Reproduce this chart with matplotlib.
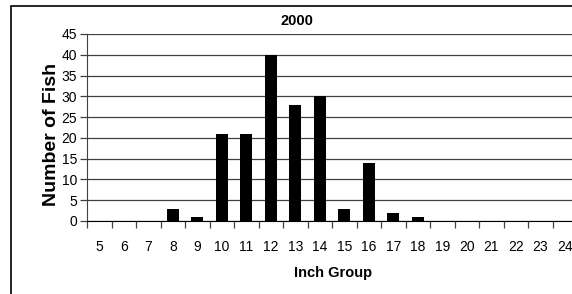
import matplotlib
matplotlib.use("Agg")
import matplotlib.pyplot as plt
from matplotlib.patches import Rectangle

plt.rcParams['font.family'] = ['Liberation Sans', 'DejaVu Sans']

# data
inch_groups = list(range(5, 25))
fish_counts = [0, 0, 0, 3, 1, 21, 21, 40, 28, 30, 3, 14, 2, 1, 0, 0, 0, 0, 0, 0]
y_ticks = list(range(0, 50, 5))
title = '2000'

fig = plt.figure(figsize=(5.72, 2.94), dpi=100)
fig.patch.set_facecolor('white')

# outer chart frame (clipped at right / bottom like the reference)
fig.add_artist(Rectangle((11 / 572, -0.05), 1.2, 1 - 6 / 294 + 0.05,
                         transform=fig.transFigure, fill=False,
                         edgecolor='black', linewidth=1.2))

ax = fig.add_axes([87 / 572, 1 - 221 / 294, (577 - 87) / 572, (221 - 34) / 294])
ax.bar(inch_groups, fish_counts, width=0.47, color='black', zorder=3)

ax.set_xlim(4.5, 24.5)
ax.set_ylim(0, 45)
ax.set_yticks(y_ticks)
ax.set_xticks(inch_groups)
ax.set_xticks([g + 0.5 for g in [4] + inch_groups], minor=True)

ax.yaxis.grid(True, color='#404040', linewidth=0.9, zorder=0)
ax.set_axisbelow(True)
for s in ['top', 'right']:
    ax.spines[s].set_visible(False)
ax.spines['left'].set_color('#404040')
ax.spines['bottom'].set_color('black')
ax.spines['bottom'].set_zorder(4)

ax.tick_params(axis='x', which='major', length=0, pad=14, labelsize=10)
ax.tick_params(axis='x', which='minor', length=5, width=0.9, color='#404040')
ax.tick_params(axis='y', length=5, width=0.9, color='#404040', labelsize=10, pad=2)

fig.text(51 / 572, 1 - 134 / 294, 'Number of Fish', fontsize=14, fontweight='bold',
         rotation=90, ha='center', va='center')
fig.text(333 / 572, 1 - 273 / 294, 'Inch Group', fontsize=10.5, fontweight='bold',
         ha='center', va='center')
fig.text(297 / 572, 1 - 21 / 294, title, fontsize=10.5, fontweight='bold',
         ha='center', va='center')

fig.savefig('out.png', dpi=100)
